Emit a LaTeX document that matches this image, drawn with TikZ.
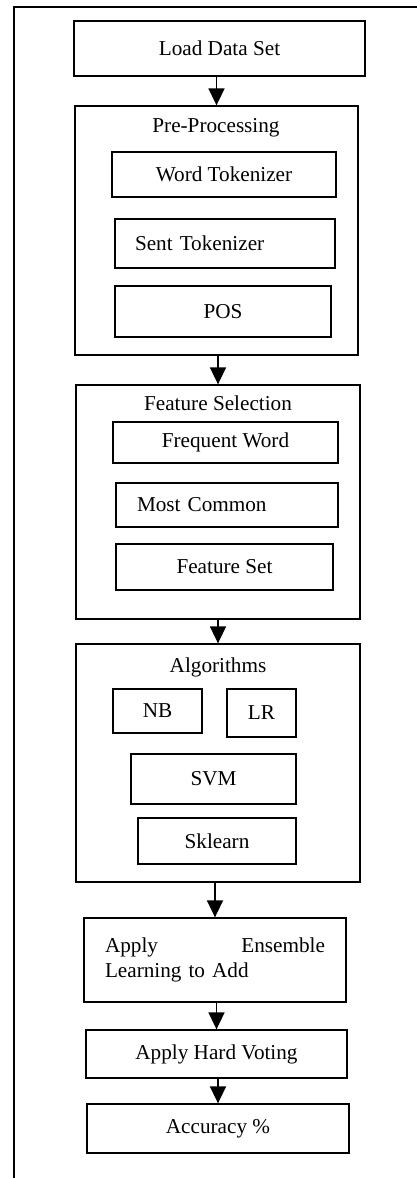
\documentclass[tikz,border=0pt]{standalone}
\usepackage{fontspec}
\setmainfont{Liberation Serif}
\usetikzlibrary{arrows.meta}

\begin{document}
\begin{tikzpicture}[
        x=0.5pt, y=-0.5pt,
        >={Triangle[length=8.5pt, width=8pt]},
        font=\fontsize{10.6}{12.7}\selectfont,
        box/.style={draw, line width=0.65pt, rectangle, inner sep=0pt},
        group/.style={draw, line width=0.65pt, rectangle, inner sep=0pt},
        title/.style={inner sep=0pt},
        flow/.style={->, line width=0.85pt},
    ]
        \useasboundingbox (0,0) rectangle (417,1178);

        % Page frame
        \draw[line width=0.65pt] (417,7) -- (14,7) -- (14,1178);

        % First step
        \node[box, minimum width=145.5pt, minimum height=27.5pt] (load) at (219.5,48.5) {Load Data Set};

        % Pre-processing group
        \node[group, minimum width=141.5pt, minimum height=124.5pt] (pre) at (216.5,230.5) {};
        \node[title] (pre-t) at (216,128) {Pre-Processing};
        \node[box, minimum width=112pt, minimum height=22.5pt] (word) at (224,174.5) {Word Tokenizer};
        \node[box, minimum height=24.5pt, text width=90pt, inner xsep=10pt, align=left] (sent) at (225,243.5) {Sent Tokenizer};
        \node[box, minimum width=108pt, minimum height=25.5pt] (pos) at (223,311.5) {POS};

        % Feature selection group
        \node[group, minimum width=142pt, minimum height=117pt] (feat) at (218,502) {};
        \node[title] (feat-t) at (218,403) {Feature Selection};
        \node[box, minimum width=112.5pt, minimum height=20.5pt] (freq) at (225.5,442.5) {Frequent Word};
        \node[box, minimum height=22pt, text width=90pt, inner xsep=10.5pt, align=left] (common) at (227,505) {Most Common};
        \node[box, minimum width=108.5pt, minimum height=23pt] (fset) at (224.5,567) {Feature Set};

        % Algorithms group
        \node[group, minimum width=142pt, minimum height=119pt] (alg) at (218,763) {};
        \node[title] (alg-t) at (218,667) {Algorithms};
        \node[box, minimum width=44.5pt, minimum height=22pt] (nb) at (157.5,711) {NB};
        \node[box, minimum width=34.5pt, minimum height=24pt] (lr) at (261.5,713) {LR};
        \node[box, minimum width=82.5pt, minimum height=25pt] (svm) at (213.5,779) {SVM};
        \node[box, minimum width=79pt, minimum height=23pt] (sk) at (217,841) {Sklearn};

        % Last steps
        \node[box, minimum height=42pt, text width=110pt, inner xsep=10.5pt, align=left] (ens) at (215,960) {Apply\hfill Ensemble\\Learning to Add};
        \node[box, minimum width=130.5pt, minimum height=24pt] (vote) at (216.5,1054) {Apply Hard Voting};
        \node[box, minimum width=131pt, minimum height=24.5pt] (acc) at (218,1128.5) {Accuracy \%};

        % Connect each step with the next one
        \foreach \from/\to in {load/pre, pre/feat, feat/alg, alg/ens, ens/vote, vote/acc}
            \draw[flow] (\to.north |- \from.south) -- (\to.north);
    \end{tikzpicture}
\end{document}
